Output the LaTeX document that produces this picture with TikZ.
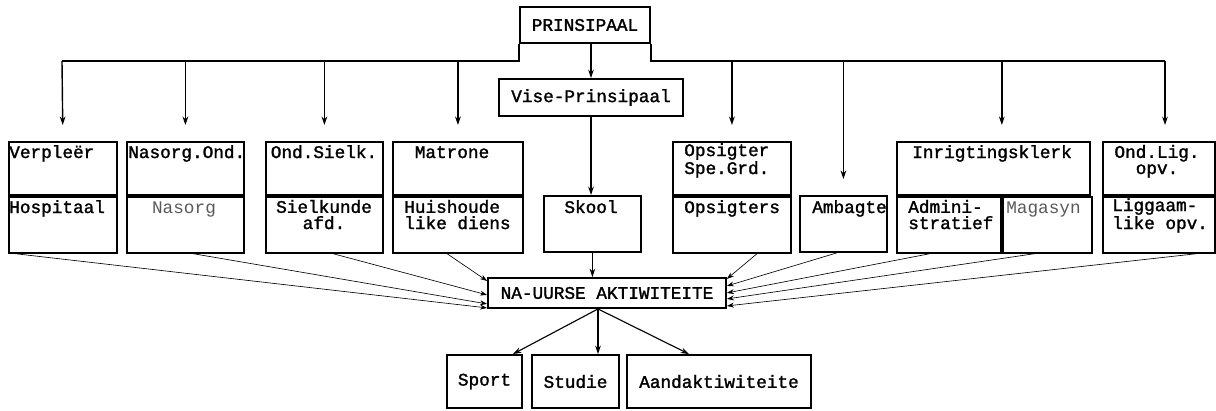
\documentclass[tikz,border=0pt]{standalone}
\usepackage{fontspec}
\newfontfamily\typer{Liberation Mono}[BoldFont={Liberation Mono}, BoldFeatures={FakeBold=1.6}]
\usetikzlibrary{arrows.meta,positioning,calc}
\newlength{\pu}
\setlength{\pu}{0.025cm}

\begin{document}
\begin{tikzpicture}[x=0.025cm, y=-0.025cm,
        cell/.style={draw, line width=1.3pt, inner sep=0pt, anchor=north west},
        box/.style={draw, line width=1.3pt, inner sep=0pt, font=\typer\bfseries\fontsize{12.6}{11.5}\selectfont},
        txt/.style={font=\typer\bfseries\fontsize{12.6}{11.5}\selectfont, inner sep=0pt},
        faint/.style={txt, font=\typer\fontsize{12.6}{11.5}\selectfont, black!65},
        bus/.style={line width=1pt},
        arr/.style={line width=0.8pt, -{Stealth[length=6pt,width=4pt]}},
        down/.style={arr, line width=1pt, shorten >=16\pu},
        feed/.style={line width=0.45pt, -{Stealth[length=5pt,width=3.5pt]}}
    ]
        \useasboundingbox (0,0) rectangle (1216,410);

        % Head
        \node[box, minimum width=130\pu, minimum height=36\pu] (prin) at (585,25) {PRINSIPAAL};
        \node[box, minimum width=184\pu, minimum height=37\pu] (vise) at (591,97.5) {Vise-Prinsipaal};
        \coordinate (busL) at (62,61);
        \coordinate (busR) at (1165,61);
        \draw[bus] (prin.south west) |- (busL);
        \draw[bus] (prin.south east) |- (busR);
        \draw[arr] (vise.north |- prin.south) -- (vise.north);

        % Verpleer
        \node[cell, minimum width=108\pu, minimum height=53\pu] (verpleer) at (8,141) {};
        \node[cell, minimum width=108\pu, minimum height=56\pu] (hosp) at (verpleer.south west) {};
        \node[txt, anchor=base west] (verpleer-t) at (9,158) {Verpleër};
        \node[txt, anchor=base west] (hosp-t) at (9,213) {Hospitaal};

        % Nasorg
        \node[cell, minimum width=117\pu, minimum height=53\pu] (nasond) at (126,141) {};
        \node[cell, minimum width=117\pu, minimum height=56\pu] (nasorg) at (nasond.south west) {};
        \node[txt, anchor=base west] (nasond-t) at (128,158) {Nasorg.Ond.};
        \node[faint, anchor=base] (nasorg-t) at (184,213) {Nasorg};

        % Sielkunde
        \node[cell, minimum width=117\pu, minimum height=53\pu] (sielk) at (265,141) {};
        \node[cell, minimum width=117\pu, minimum height=56\pu] (sielkafd) at (sielk.south west) {};
        \node[txt, anchor=base] (sielk-t) at (324,158) {Ond.Sielk.};
        \node[txt, anchor=base, align=center] (sielkafd-t) at (324,229) {Sielkunde\\afd.};

        % Matrone
        \node[cell, minimum width=130\pu, minimum height=53\pu] (matrone) at (392,141) {};
        \node[cell, minimum width=130\pu, minimum height=56\pu] (huis) at (matrone.south west) {};
        \node[txt, anchor=base] (matrone-t) at (452,158) {Matrone};
        \node[txt, anchor=base west, align=left] (huis-t) at (404,229) {Huishoude\\like diens};

        % Skool
        \node[cell, minimum width=97\pu, minimum height=56\pu] (skool) at (543,195) {};
        \node[txt, anchor=base] (skool-t) at (591,213) {Skool};
        \draw[arr, line width=2pt] (vise.south) -- (vise.south |- skool.north);

        % Opsigters
        \node[cell, minimum width=118\pu, minimum height=53\pu] (opsspe) at (672,141) {};
        \node[cell, minimum width=118\pu, minimum height=56\pu] (opsig) at (opsspe.south west) {};
        \node[txt, anchor=base west, align=left] (opsspe-t) at (684,174) {Opsigter\\Spe.Grd.};
        \node[txt, anchor=base west] (opsig-t) at (684,213) {Opsigters};

        % Ambagte
        \node[cell, minimum width=87\pu, minimum height=56\pu] (ambag) at (799,195) {};
        \node[txt, anchor=base west] (ambag-t) at (812,213) {Ambagte};

        % Inrigtingsklerk
        \node[cell, minimum width=193\pu, minimum height=53\pu] (inrig) at (896,141) {};
        \node[cell, minimum width=104\pu, minimum height=56\pu] (admin) at (inrig.south west) {};
        \node[cell, minimum width=89\pu, minimum height=56\pu] (magas) at (admin.north east) {};
        \node[txt, anchor=base] (inrig-t) at (992,158) {Inrigtingsklerk};
        \node[txt, anchor=base west, align=left] (admin-t) at (908,229) {Admini-\\stratief};
        \node[faint, anchor=base west] (magas-t) at (1006,213) {Magasyn};

        % Liggaamlike opvoeding
        \node[cell, minimum width=112\pu, minimum height=53\pu] (ondlig) at (1102,141) {};
        \node[cell, minimum width=112\pu, minimum height=56\pu] (ligopv) at (ondlig.south west) {};
        \node[txt, anchor=base, align=center] (ondlig-t) at (1157,174) {Ond.Lig.\\opv.};
        \node[txt, anchor=base west, align=left] (ligopv-t) at (1112,229) {Liggaam-\\like opv.};

        % Arrows from the bus
        \draw[down] (busL) -- (verpleer.north);
        \draw[down] (busL -| nasond.north) -- (nasond.north);
        \draw[down] (busL -| sielk.north) -- (sielk.north);
        \draw[down] (busL -| matrone.north) -- (matrone.north);
        \draw[down] (busR -| opsspe.north) -- (opsspe.north);
        \draw[down] (busR -| ambag.north) -- (ambag.north);
        \draw[down] (busR -| admin.north east) -- (admin.north east |- inrig.north);
        \draw[down] (busR) -- (busR |- ondlig.north);

        % Na-uurse aktiwiteite
        \node[box, minimum width=238\pu, minimum height=30\pu] (na) at (607,293) {NA-UURSE AKTIWITEITE};
        \draw[arr] (skool.south) -- (skool.south |- na.north);
        \draw[feed] ([xshift=7\pu]hosp.south west) -- ([yshift=1\pu]na.south west);
        \draw[feed] ([xshift=67\pu]nasorg.south west) -- ([yshift=5\pu]na.south west);
        \draw[feed] ([xshift=68\pu]sielkafd.south west) -- ([yshift=14\pu]na.south west);
        \draw[feed] ([xshift=55\pu]huis.south west) -- ([yshift=28\pu]na.south west);
        \draw[feed] ([xshift=85\pu]opsig.south west) -- ([yshift=30\pu]na.south east);
        \draw[feed] ([xshift=38\pu]ambag.south west) -- ([yshift=23\pu]na.south east);
        \draw[feed] ([xshift=34\pu]admin.south west) -- ([yshift=16\pu]na.south east);
        \draw[feed] ([xshift=33\pu]magas.south west) -- ([yshift=10\pu]na.south east);
        \draw[feed] ([xshift=95\pu]ligopv.south west) -- ([yshift=3\pu]na.south east);

        % Bottom row
        \node[box, minimum width=75\pu, minimum height=53\pu] (sport) at (484.5,381.5) {Sport};
        \node[box, minimum width=87\pu, minimum height=53\pu] (studie) at (575.5,381.5) {Studie};
        \node[box, minimum width=184\pu, minimum height=53\pu] (aand) at (719,381.5) {Aandaktiwiteite};
        \coordinate (nabot) at ([xshift=-9\pu]na.south);
        \draw[arr] (nabot) -- ([xshift=-10\pu]sport.north east);
        \draw[arr] (nabot) -- (nabot |- studie.north);
        \draw[arr] (nabot) -- ([xshift=63\pu]aand.north west);

    \end{tikzpicture}
\end{document}
